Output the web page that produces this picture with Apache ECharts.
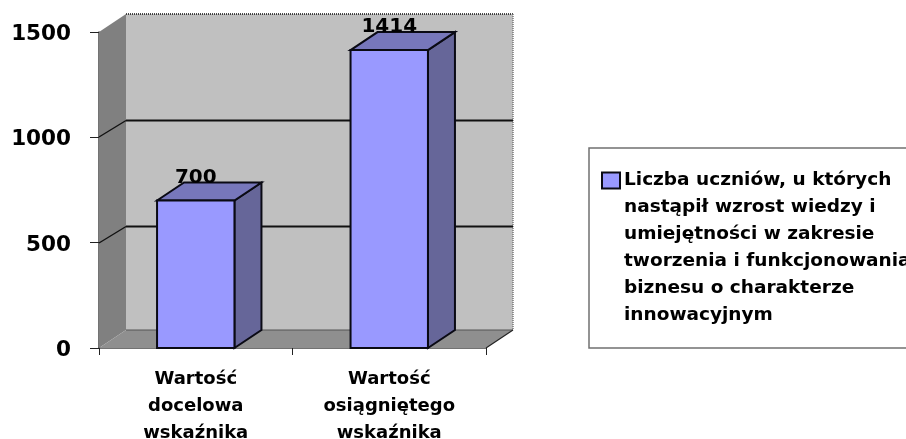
<!DOCTYPE html>
<html><head><meta charset="utf-8">
<style>html,body{margin:0;padding:0;background:#fff}#c{width:906px;height:439px}</style>
<script src="https://cdn.jsdelivr.net/npm/echarts@6/dist/echarts.min.js"></script>
</head><body><div id="c"></div>
<script>
const categories = ['Wartość\ndocelowa\nwskaźnika', 'Wartość\nosiągniętego\nwskaźnika'];
const values = [700, 1414];
const yTicks = [0, 500, 1000, 1500];
const legendLines = ['Liczba uczniów, u których', 'nastąpił wzrost wiedzy i', 'umiejętności w zakresie', 'tworzenia i funkcjonowania', 'biznesu o charakterze', 'innowacyjnym'];

const DX = 27, DY = -18, FONT = '"DejaVu Sans", sans-serif';
const chart = echarts.init(document.getElementById('c'), null, {renderer: 'canvas'});

function poly(points, fill, stroke, lw) {
  return {type: 'polygon', shape: {points}, style: {fill, stroke: stroke || null, lineWidth: lw || 0}};
}
function line(x1, y1, x2, y2, stroke, lw, dash) {
  return {type: 'line', shape: {x1, y1, x2, y2}, style: {stroke, lineWidth: lw, lineDash: dash || null, fill: null}};
}
function renderWalls(params, api) {
  const b = params.coordSys, l = b.x, r = b.x + b.width, t = b.y, bt = b.y + b.height;
  return {type: 'group', silent: true, children: [
    poly([[l + DX, t + DY], [r + DX, t + DY], [r + DX, bt + DY], [l + DX, bt + DY]], '#C0C0C0'),
    poly([[l, t], [l + DX, t + DY], [l + DX, bt + DY], [l, bt]], '#808080'),
    poly([[l, bt], [l + DX, bt + DY], [r + DX, bt + DY], [r, bt]], '#8F8F8F'),
    line(l + DX, bt + DY, r + DX, bt + DY, '#555', 1),
    line(l + DX, t + DY, r + DX, t + DY, '#111', 1.5, [1, 1]),
    line(r + DX, t + DY, r + DX, bt + DY, '#777', 1.5, [1, 1]),
    line(r, bt, r + DX, bt + DY, '#222', 1.2)
  ]};
}
function renderGrid(params, api) {
  const v = api.value(0), b = params.coordSys;
  if (v === 0 || v === 1500) return {type: 'group', children: []};
  const p = api.coord([0, v]), y = Math.round(p[1]);
  return {type: 'group', silent: true, children: [
    line(b.x, y, b.x + DX, y + DY + 1.5, '#111', 1.4),
    line(b.x + DX, y + DY + 1.5, b.x + b.width + DX, y + DY + 1.5, '#111', 1.8)
  ]};
}
function renderBar(params, api) {
  const c = api.value(0), v = api.value(1);
  const top = api.coord([c, v]), base = api.coord([c, 0]);
  const w = api.size([1, 0])[0] * 0.4;
  const x0 = top[0] - w / 2, x1 = top[0] + w / 2, y0 = top[1], y1 = base[1];
  const S = '#0A0A14', L = 2;
  return {type: 'group', children: [
    poly([[x1, y1], [x1 + DX, y1 + DY], [x1 + DX, y0 + DY], [x1, y0]], '#666699', S, L),
    poly([[x0, y0], [x0 + DX, y0 + DY], [x1 + DX, y0 + DY], [x1, y0]], '#7777BB', S, L),
    poly([[x0, y0], [x1, y0], [x1, y1], [x0, y1]], '#9999FF', S, L),
    {type: 'text', z2: 10, style: {text: String(v), x: top[0], y: y0 - 23, align: 'center', verticalAlign: 'middle',
      font: 'bold 20px ' + FONT, fill: '#000'}}
  ]};
}
chart.setOption({
  animation: false,
  backgroundColor: '#fff',
  grid: {left: 99, top: 32, width: 387, height: 316, containLabel: false, outerBoundsMode: 'none'},
  xAxis: {type: 'category', data: categories,
    axisLine: {lineStyle: {color: '#444', width: 1.5}},
    axisTick: {show: true, length: 7, lineStyle: {color: '#222', width: 1}},
    axisLabel: {color: '#000', fontFamily: FONT, fontWeight: 'bold', fontSize: 18, lineHeight: 27, margin: 18, interval: 0}},
  yAxis: {type: 'value', min: 0, max: 1500, interval: 500,
    axisLine: {show: true, lineStyle: {color: '#444', width: 1.5}},
    axisTick: {show: true, length: 9, lineStyle: {color: '#222', width: 1}},
    splitLine: {show: false},
    axisLabel: {color: '#000', fontFamily: FONT, fontWeight: 'bold', fontSize: 21.5, margin: 28, verticalAlign: 'top', lineHeight: 5, formatter: v => String(v)}},
  legend: {show: true, left: 589, top: 148, orient: 'vertical', icon: 'none', itemWidth: 0, itemHeight: 14,
    padding: [19, 0, 19, 9], borderColor: '#707070', borderWidth: 1.5, backgroundColor: '#fff',
    data: [legendLines.join(' ')],
    selectedMode: false,
    formatter: () => legendLines.map((s, i) => (i === 0 ? '{box| }{g| }' : '{pad| }') + '{t|' + s + '}').join('\n'),
    textStyle: {rich: {
      box: {width: 16, height: 14, backgroundColor: '#9999FF', borderColor: '#0A0A14', borderWidth: 2},
      g: {width: 5},
      pad: {width: 21},
      t: {width: 283, color: '#000', fontFamily: FONT, fontWeight: 'bold', fontSize: 18.5, lineHeight: 27, height: 27}
    }}},
  series: [
    {type: 'custom', name: 'walls', renderItem: renderWalls, data: [0], silent: true, z: 1, clip: false},
    {type: 'custom', name: 'gridlines', renderItem: renderGrid, data: yTicks, silent: true, z: 2, clip: false, encode: {y: 0}},
    {type: 'custom', name: legendLines.join(' '), renderItem: renderBar, z: 3, clip: false,
      itemStyle: {color: '#9999FF'},
      data: values.map((v, i) => [i, v]), encode: {x: 0, y: 1}}
  ]
});
</script></body></html>
